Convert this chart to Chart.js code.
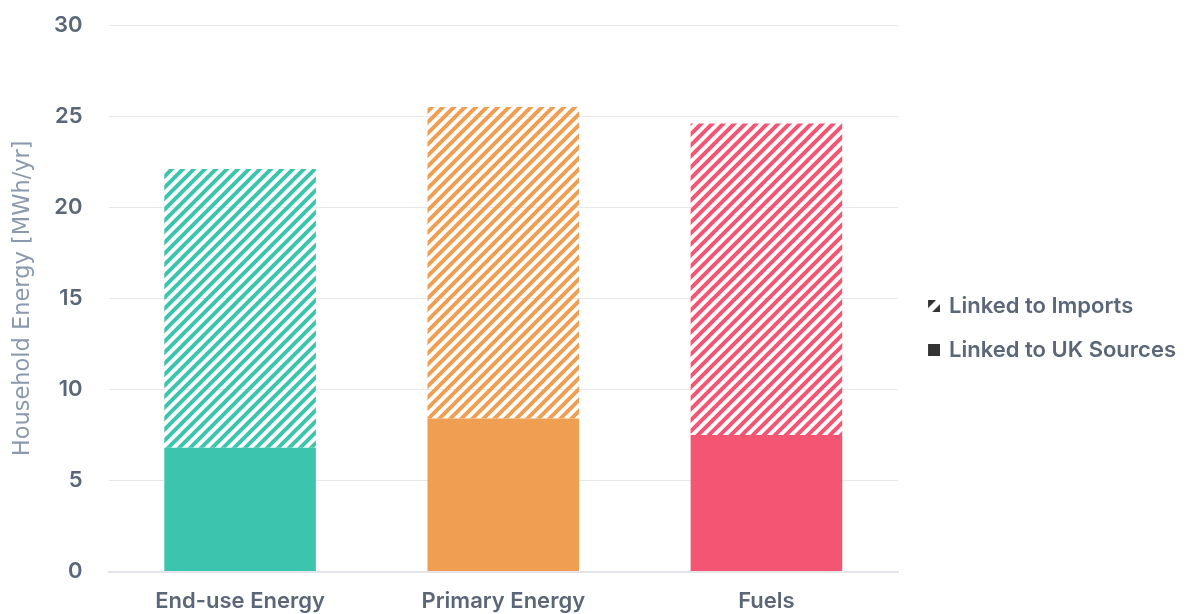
<!DOCTYPE html>
<html>
<head>
<meta charset="utf-8">
<script src="https://cdn.jsdelivr.net/npm/chart.js@4.4.1/dist/chart.umd.min.js"></script>
<style>
  html, body { margin: 0; padding: 0; background: #fff; }
  #wrap { width: 1192px; height: 614px; }
</style>
</head>
<body>
<div id="wrap"><canvas id="energyChart"></canvas></div>
<script>
const categories = ["End-use Energy", "Primary Energy", "Fuels"];
const ukSources = [6.8, 8.4, 7.5];
const imports = [15.3, 17.1, 17.1];
const barColours = ["#3dc4af", "#f09f52", "#f35573"];
const yMin = 0, yMax = 30, yStep = 5;

const textColour = "#5b6779";
const fontFamily = "Inter";

function makeHatch(colour, size, width) {
    let c = document.createElement("canvas");
    c.width = size;
    c.height = size;
    let ctx = c.getContext("2d");
    ctx.strokeStyle = colour;
    ctx.lineWidth = width;
    ctx.beginPath();
    ctx.moveTo(-2, size + 2);
    ctx.lineTo(size + 2, -2);
    ctx.moveTo(-2, 2);
    ctx.lineTo(2, -2);
    ctx.moveTo(size - 2, size + 2);
    ctx.lineTo(size + 2, size - 2);
    ctx.stroke();
    return ctx.createPattern(c, "repeat");
}

// legend swatch: 12px square sitting at the right of a 22px wide canvas
// (plain, or cut by a white diagonal for the hatched series)
function legendIcon(hatched) {
    let c = document.createElement("canvas");
    c.width = 22;
    c.height = 12;
    let ctx = c.getContext("2d");
    ctx.fillStyle = "#333";
    ctx.translate(10, 0);
    if (!hatched) {
        ctx.fillRect(0, 0, 12, 12);
        return c;
    }
    ctx.beginPath();
    ctx.moveTo(0, 0); ctx.lineTo(8, 0); ctx.lineTo(0, 8); ctx.closePath();
    ctx.fill();
    ctx.beginPath();
    ctx.moveTo(12, 12); ctx.lineTo(4, 12); ctx.lineTo(12, 4); ctx.closePath();
    ctx.fill();
    return c;
}

const hatches = barColours.map(col => makeHatch(col, 11, 4));

let energyChart = new Chart(document.getElementById("energyChart"), {
    type: "bar",
    data: {
        labels: categories,
        datasets: [{
            label: "Linked to UK Sources",
            data: ukSources,
            backgroundColor: barColours,
            categoryPercentage: 1,
            barPercentage: 0.576
        }, {
            label: "Linked to Imports",
            data: imports,
            backgroundColor: hatches,
            categoryPercentage: 1,
            barPercentage: 0.576
        }]
    },
    options: {
        responsive: true,
        maintainAspectRatio: false,
        animation: false,
        layout: {
            padding: { top: 25, left: 10, right: 6, bottom: -10 }
        },
        plugins: {
            tooltip: { enabled: false },
            legend: {
                position: "right",
                reverse: true,
                title: { display: true, text: " ", padding: 0, font: { size: 6 } },
                labels: {
                    usePointStyle: true,
                    boxWidth: 18,
                    boxHeight: 12,
                    padding: 22,
                    color: textColour,
                    font: { family: fontFamily, size: 22, weight: "600" },
                    generateLabels: chart => chart.data.datasets.map((ds, i) => ({
                        text: ds.label,
                        fontColor: textColour,
                        pointStyle: legendIcon(i === 1),
                        datasetIndex: i,
                        lineWidth: 0,
                        hidden: false
                    }))
                }
            }
        },
        scales: {
            x: {
                stacked: true,
                grid: { display: false },
                border: { color: "#e3e5ea", width: 2 },
                ticks: {
                    padding: 9,
                    color: textColour,
                    font: { family: fontFamily, size: 22, weight: "600" }
                }
            },
            y: {
                stacked: true,
                min: yMin,
                max: yMax,
                border: { display: false },
                grid: { color: "#e6e8ec", drawTicks: true, tickLength: 20, tickColor: "rgba(0,0,0,0)" },
                ticks: {
                    stepSize: yStep,
                    padding: 6,
                    color: textColour,
                    font: { family: fontFamily, size: 22, weight: "600" }
                },
                title: {
                    display: true,
                    text: "Household Energy [MWh/yr]",
                    color: "#8a99ad",
                    padding: { top: 0, bottom: 11 },
                    font: { family: "DejaVu Sans", size: 22.5 }
                }
            }
        }
    }
});
</script>
</body>
</html>
